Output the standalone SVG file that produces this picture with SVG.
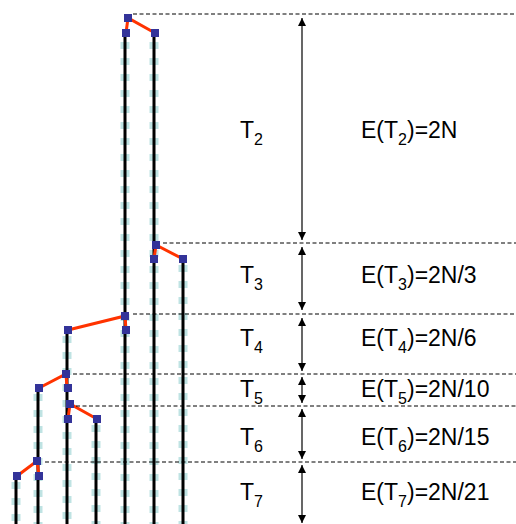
<svg xmlns="http://www.w3.org/2000/svg" width="516" height="524" viewBox="0 0 516 524">
<style>
.halo{stroke:#bfe3e3;stroke-width:9;stroke-dasharray:7 9;fill:none}
.lin{stroke:#000;stroke-width:3;fill:none}
.co{stroke:#ff3300;stroke-width:3;fill:none;stroke-linecap:round}
.nd{fill:#333399}
.hl{stroke:#000;stroke-width:1;stroke-dasharray:4 2.5;fill:none}
.ar{stroke:#000;stroke-width:1.2;fill:none;marker-start:url(#ah);marker-end:url(#ah)}
text{font-family:"Liberation Sans",Arial,sans-serif;font-size:23px;fill:#000}
.sub{font-size:16px}
</style>
<defs>
<marker id="ah" viewBox="0 0 8 8" refX="8" refY="4" markerWidth="8" markerHeight="8" markerUnits="userSpaceOnUse" orient="auto-start-reverse">
<path d="M0,0 L8,4 L0,8 z" fill="#000"/>
</marker>
</defs>
<g id="lineages">
<g id="lineage-16"><line class="halo" x1="16" y1="482" x2="16" y2="524"/><line class="lin" x1="16" y1="476" x2="16" y2="524"/></g>
<g id="lineage-38"><line class="halo" x1="38" y1="394" x2="38" y2="524"/><line class="lin" x1="38" y1="388" x2="38" y2="524"/></g>
<g id="lineage-67"><line class="halo" x1="67" y1="336" x2="67" y2="524"/><line class="lin" x1="67" y1="330" x2="67" y2="524"/></g>
<g id="lineage-96"><line class="halo" x1="96" y1="425" x2="96" y2="524"/><line class="lin" x1="96" y1="419" x2="96" y2="524"/></g>
<g id="lineage-125"><line class="halo" x1="125" y1="42" x2="125" y2="524"/><line class="lin" x1="125" y1="33" x2="125" y2="524"/></g>
<g id="lineage-154"><line class="halo" x1="154" y1="42" x2="154" y2="524"/><line class="lin" x1="154" y1="33" x2="154" y2="524"/></g>
<g id="lineage-183"><line class="halo" x1="183" y1="265" x2="183" y2="524"/><line class="lin" x1="183" y1="259" x2="183" y2="524"/></g>
</g>
<g id="connectors">
<g id="coalescence-lines">
<polyline class="co" points="126,33 128,18 155,33"/>
<polyline class="co" points="154,259 156,245 183,259"/>
<polyline class="co" points="126,330 125,316 68,330"/>
<polyline class="co" points="67,388 66,374 39,388"/>
<polyline class="co" points="68,419 70,404 97,419"/>
<polyline class="co" points="39,476 37,461 17,476"/>
</g>
<g id="time-lines">
<line class="hl" x1="133" y1="14" x2="516" y2="14"/>
<line class="hl" x1="163" y1="243" x2="516" y2="243"/>
<line class="hl" x1="133" y1="314" x2="516" y2="314"/>
<line class="hl" x1="73" y1="374" x2="516" y2="374"/>
<line class="hl" x1="76" y1="406" x2="516" y2="406"/>
<line class="hl" x1="45" y1="462" x2="516" y2="462"/>
</g>
<g id="interval-arrows">
<line class="ar" x1="302" y1="18" x2="302" y2="240"/>
<line class="ar" x1="302" y1="247" x2="302" y2="310"/>
<line class="ar" x1="302" y1="318" x2="302" y2="371"/>
<line class="ar" x1="302" y1="377" x2="302" y2="403"/>
<line class="ar" x1="302" y1="409" x2="302" y2="459"/>
<line class="ar" x1="302" y1="465" x2="302" y2="523"/>
</g>
</g>
<g id="nodes">
<g id="event-2"><rect class="nd" x="124" y="14" width="8" height="8"/><rect class="nd" x="122" y="29" width="8" height="8"/><rect class="nd" x="151" y="29" width="8" height="8"/></g>
<g id="event-3"><rect class="nd" x="152" y="241" width="8" height="8"/><rect class="nd" x="150" y="255" width="8" height="8"/><rect class="nd" x="179" y="255" width="8" height="8"/></g>
<g id="event-4"><rect class="nd" x="121" y="312" width="8" height="8"/><rect class="nd" x="122" y="326" width="8" height="8"/><rect class="nd" x="64" y="326" width="8" height="8"/></g>
<g id="event-5"><rect class="nd" x="62" y="370" width="8" height="8"/><rect class="nd" x="64" y="384" width="8" height="8"/><rect class="nd" x="35" y="384" width="8" height="8"/></g>
<g id="event-6"><rect class="nd" x="66" y="400" width="8" height="8"/><rect class="nd" x="64" y="415" width="8" height="8"/><rect class="nd" x="93" y="415" width="8" height="8"/></g>
<g id="event-7"><rect class="nd" x="33" y="457" width="8" height="8"/><rect class="nd" x="35" y="472" width="8" height="8"/><rect class="nd" x="13" y="472" width="8" height="8"/></g>
</g>
<g id="labels">
<g id="row-2"><text x="240" y="138">T<tspan class="sub" dy="7">2</tspan></text><text x="361" y="138">E(T<tspan class="sub" dy="7">2</tspan><tspan dy="-7">)=2N</tspan></text></g>
<g id="row-3"><text x="240" y="283">T<tspan class="sub" dy="7">3</tspan></text><text x="361" y="283">E(T<tspan class="sub" dy="7">3</tspan><tspan dy="-7">)=2N/3</tspan></text></g>
<g id="row-4"><text x="240" y="346">T<tspan class="sub" dy="7">4</tspan></text><text x="361" y="346">E(T<tspan class="sub" dy="7">4</tspan><tspan dy="-7">)=2N/6</tspan></text></g>
<g id="row-5"><text x="240" y="397">T<tspan class="sub" dy="7">5</tspan></text><text x="361" y="397">E(T<tspan class="sub" dy="7">5</tspan><tspan dy="-7">)=2N/10</tspan></text></g>
<g id="row-6"><text x="240" y="445">T<tspan class="sub" dy="7">6</tspan></text><text x="361" y="445">E(T<tspan class="sub" dy="7">6</tspan><tspan dy="-7">)=2N/15</tspan></text></g>
<g id="row-7"><text x="240" y="500">T<tspan class="sub" dy="7">7</tspan></text><text x="361" y="500">E(T<tspan class="sub" dy="7">7</tspan><tspan dy="-7">)=2N/21</tspan></text></g>
</g>
</svg>
